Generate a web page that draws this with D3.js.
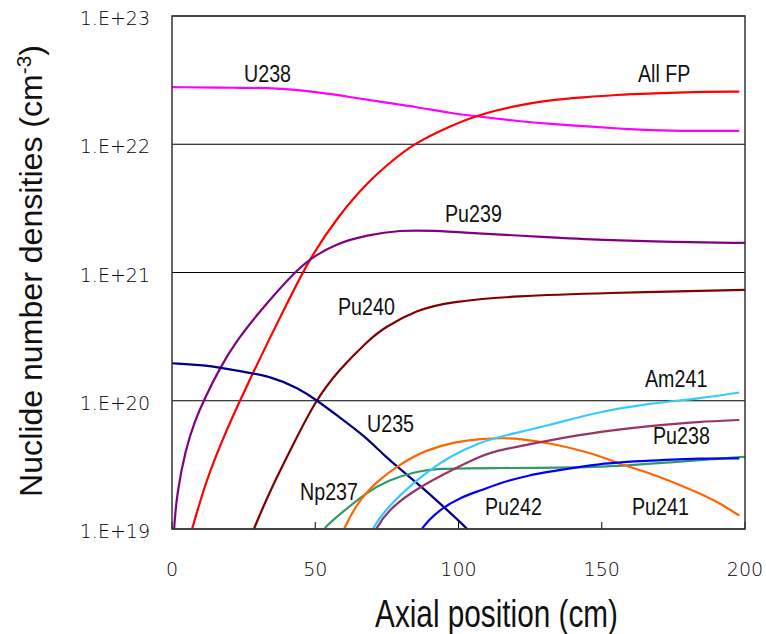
<!DOCTYPE html>
<html>
<head>
<meta charset="utf-8">
<script src="https://cdn.jsdelivr.net/npm/d3@7"></script>
<style>
  body { margin: 0; background: #fff; }
  svg { display: block; }
</style>
</head>
<body>
<svg id="canvas" width="766" height="634"></svg>
<script>
// axial position (cm) and number density (cm^-3) per nuclide
let u238Pos = [0, 23, 36.6, 50.6, 62, 73.6, 85.5, 97, 108.5, 120, 131.5, 149, 159, 172.8, 198]
let u238 = [2.79e22, 2.75e22, 2.75e22, 2.55e22, 2.34e22, 2.13e22, 1.95e22, 1.75e22, 1.63e22, 1.52e22, 1.44e22, 1.36e22, 1.31e22, 1.27e22, 1.27e22]

let fpPos = [5, 7, 11.6, 17.5, 23.8, 28.5, 33.8, 39.4, 48.2, 58.6, 68, 76.1, 83.7, 97, 108.5, 120, 131.5, 143.5, 155, 167, 186.7, 198]
let allFP = [7e18, 1.0e19, 2.27e19, 4.94e19, 1.01e20, 1.69e20, 2.98e20, 5.29e20, 1.32e21, 2.86e21, 5.0e21, 7.2e21, 9.9e21, 1.39e22, 1.74e22, 1.99e22, 2.21e22, 2.32e22, 2.43e22, 2.49e22, 2.57e22, 2.57e22]

let pu239Pos = [0, 0.6, 1.75, 4.64, 8.1, 11.1, 16.9, 22.7, 30.7, 41.2, 48.2, 57.5, 68, 79.6, 91.2, 105, 130, 150, 175, 200]
let pu239 = [4e18, 1.0e19, 1.9e19, 4.13e19, 7.08e19, 1.01e20, 1.84e20, 2.98e20, 5.0e20, 9.27e20, 1.29e21, 1.69e21, 1.96e21, 2.14e21, 2.12e21, 2.03e21, 1.89e21, 1.79e21, 1.73e21, 1.70e21]

let pu240Pos = [27, 28.5, 34.9, 41.9, 50, 58.2, 68.7, 73.8, 85.4, 97, 120, 150, 200]
let pu240 = [8e18, 1.0e19, 2.14e19, 4.38e19, 1.0e20, 1.74e20, 2.98e20, 3.69e20, 5.11e20, 5.92e20, 6.56e20, 6.92e20, 7.31e20]

let u235Pos = [0, 11.6, 23.3, 34.9, 44.2, 50, 58.2, 67.5, 74.5, 81.4, 88.4, 95.4, 102.4, 106]
let u235 = [1.96e20, 1.9e20, 1.71e20, 1.54e20, 1.25e20, 1.03e20, 7.51e19, 5.25e19, 3.66e19, 2.72e19, 2.01e19, 1.45e19, 1.04e19, 8.5e18]

let np237Pos = [50.5, 52.4, 60.5, 67.5, 75.6, 84.9, 93.1, 108.2, 150, 175, 200]
let np237 = [8e18, 1.0e19, 1.41e19, 1.9e19, 2.41e19, 2.8e19, 2.97e19, 2.99e19, 3.0e19, 3.33e19, 3.66e19]

let pu241Pos = [58.5, 59.9, 65.2, 72.1, 79.1, 88.4, 98.9, 108.2, 115, 121.5, 132, 149, 156, 167, 184, 191, 198]
let pu241 = [8e18, 1.0e19, 1.68e19, 2.41e19, 3.15e19, 4.13e19, 4.8e19, 5.05e19, 5.12e19, 5.06e19, 4.69e19, 3.78e19, 3.21e19, 2.74e19, 1.91e19, 1.6e19, 1.27e19]

let am241Pos = [68.5, 69.8, 74.5, 81.4, 88.4, 96.6, 108.2, 114.5, 132, 149, 167, 184, 198]
let am241 = [8e18, 1.0e19, 1.41e19, 2.01e19, 2.72e19, 3.66e19, 4.8e19, 5.25e19, 6.47e19, 8.22e19, 9.55e19, 1.04e20, 1.16e20]

let pu238Pos = [69.5, 71, 75.6, 83.8, 93.1, 108.2, 114.5, 132, 149, 167, 184, 198]
let pu238 = [8e18, 1.0e19, 1.41e19, 1.95e19, 2.56e19, 3.78e19, 4.13e19, 4.94e19, 5.74e19, 6.36e19, 6.87e19, 7.08e19]

let pu242Pos = [85, 86.7, 93.1, 101.2, 108.2, 114.5, 125, 132, 149, 167, 184, 198]
let pu242 = [8e18, 1.0e19, 1.41e19, 1.79e19, 2.01e19, 2.29e19, 2.64e19, 2.8e19, 3.25e19, 3.41e19, 3.56e19, 3.56e19]

let yTicks = [1e19, 1e20, 1e21, 1e22, 1e23]
let xTicks = [0, 50, 100, 150, 200]

let series = [
    {name: 'U238', pos: u238Pos, val: u238, color: '#ff00ff', lx: 244, ly: 82},
    {name: 'All FP', pos: fpPos, val: allFP, color: '#ff0000', lx: 638, ly: 82},
    {name: 'Pu239', pos: pu239Pos, val: pu239, color: '#800080', lx: 445, ly: 222},
    {name: 'Pu240', pos: pu240Pos, val: pu240, color: '#800000', lx: 338, ly: 315},
    {name: 'U235', pos: u235Pos, val: u235, color: '#000080', lx: 367, ly: 432},
    {name: 'Np237', pos: np237Pos, val: np237, color: '#339966', lx: 300, ly: 500},
    {name: 'Pu241', pos: pu241Pos, val: pu241, color: '#ff6600', lx: 632, ly: 515},
    {name: 'Am241', pos: am241Pos, val: am241, color: '#33ccff', lx: 645, ly: 387},
    {name: 'Pu238', pos: pu238Pos, val: pu238, color: '#993366', lx: 653, ly: 444},
    {name: 'Pu242', pos: pu242Pos, val: pu242, color: '#0000ff', lx: 485, ly: 515}
]

let canvas = d3.select('#canvas')
let plotL = 172, plotR = 745, plotT = 16, plotB = 529
let narrow = 0.82   // condensed look of the original lettering

let xScale = d3.scaleLinear().domain([0, 200]).range([plotL, plotR])
let yScale = d3.scaleLog().domain([1e19, 1e23]).range([plotB, plotT])

canvas.append('defs').append('clipPath').attr('id', 'plot')
    .append('rect')
    .attr('x', plotL).attr('y', plotT)
    .attr('width', plotR - plotL).attr('height', plotB - plotT)

// decade grid lines
canvas.selectAll('.grid')
    .data(yTicks)
    .enter()
    .append('line')
    .attr('x1', plotL).attr('x2', plotR)
    .attr('y1', (d) => yScale(d)).attr('y2', (d) => yScale(d))
    .attr('stroke', '#000')
    .attr('stroke-width', 1)

// inner x ticks
canvas.selectAll('.xtick')
    .data(xTicks)
    .enter()
    .append('line')
    .attr('x1', (d) => xScale(d)).attr('x2', (d) => xScale(d))
    .attr('y1', plotB).attr('y2', plotB - 7)
    .attr('stroke', '#000')

let line = d3.line()
    .x((d) => xScale(d[0]))
    .y((d) => yScale(d[1]))
    .curve(d3.curveBasis)

let plot = canvas.append('g').attr('clip-path', 'url(#plot)')
series.forEach((s) => {
    let pts = s.pos.map((p, i) => [p, s.val[i]])
    plot.append('path')
        .attr('d', line(pts))
        .attr('fill', 'none')
        .attr('stroke', s.color)
        .attr('stroke-width', 2.2)
})

canvas.append('rect')
    .attr('x', plotL).attr('y', plotT)
    .attr('width', plotR - plotL).attr('height', plotB - plotT)
    .attr('fill', 'none')
    .attr('stroke', '#333')
    .attr('stroke-width', 1.5)

// curve labels
canvas.selectAll('.lbl')
    .data(series)
    .enter()
    .append('text')
    .attr('transform', (s) => 'translate(' + s.lx + ',' + s.ly + ') scale(' + narrow + ',1)')
    .attr('font-family', "'Liberation Sans', Arial, sans-serif")
    .attr('font-size', 24)
    .attr('fill', '#111')
    .text((s) => s.name)

// tick labels
canvas.selectAll('.ylab')
    .data(yTicks)
    .enter()
    .append('text')
    .attr('x', 150)
    .attr('y', (d) => yScale(d) + 9)
    .attr('text-anchor', 'end')
    .attr('font-family', "'DejaVu Sans', sans-serif")
    .attr('font-weight', 200)
    .attr('font-size', 19)
    .attr('fill', '#000')
    .text((d) => '1.E+' + Math.round(Math.log10(d)))

canvas.selectAll('.xlab')
    .data(xTicks)
    .enter()
    .append('text')
    .attr('x', (d) => xScale(d))
    .attr('y', 576)
    .attr('text-anchor', 'middle')
    .attr('font-family', "'DejaVu Sans', sans-serif")
    .attr('font-weight', 200)
    .attr('font-size', 19)
    .attr('fill', '#000')
    .text((d) => d)

// axis titles, squeezed to the width seen in the figure
let xTitle = canvas.append('text')
    .attr('font-family', "'Liberation Sans', Arial, sans-serif")
    .attr('font-size', 39)
    .attr('fill', '#111')
    .attr('text-anchor', 'middle')
    .text('Axial position (cm)')
let xw = xTitle.node().getBBox().width
xTitle.attr('transform', 'translate(496.5,627) scale(' + (243 / xw) + ',1)')

let yTitle = canvas.append('text')
    .attr('font-family', "'Liberation Sans', Arial, sans-serif")
    .attr('font-size', 31)
    .attr('fill', '#111')
    .attr('text-anchor', 'middle')
yTitle.append('tspan').text('Nuclide number densities (cm')
yTitle.append('tspan').attr('dy', -11).attr('font-size', 20).text('-3')
yTitle.append('tspan').attr('dy', 11).text(')')
let yw = yTitle.node().getBBox().width
yTitle.attr('transform', 'translate(42,271) rotate(-90) scale(' + (452 / yw) + ',1)')
</script>
</body>
</html>
